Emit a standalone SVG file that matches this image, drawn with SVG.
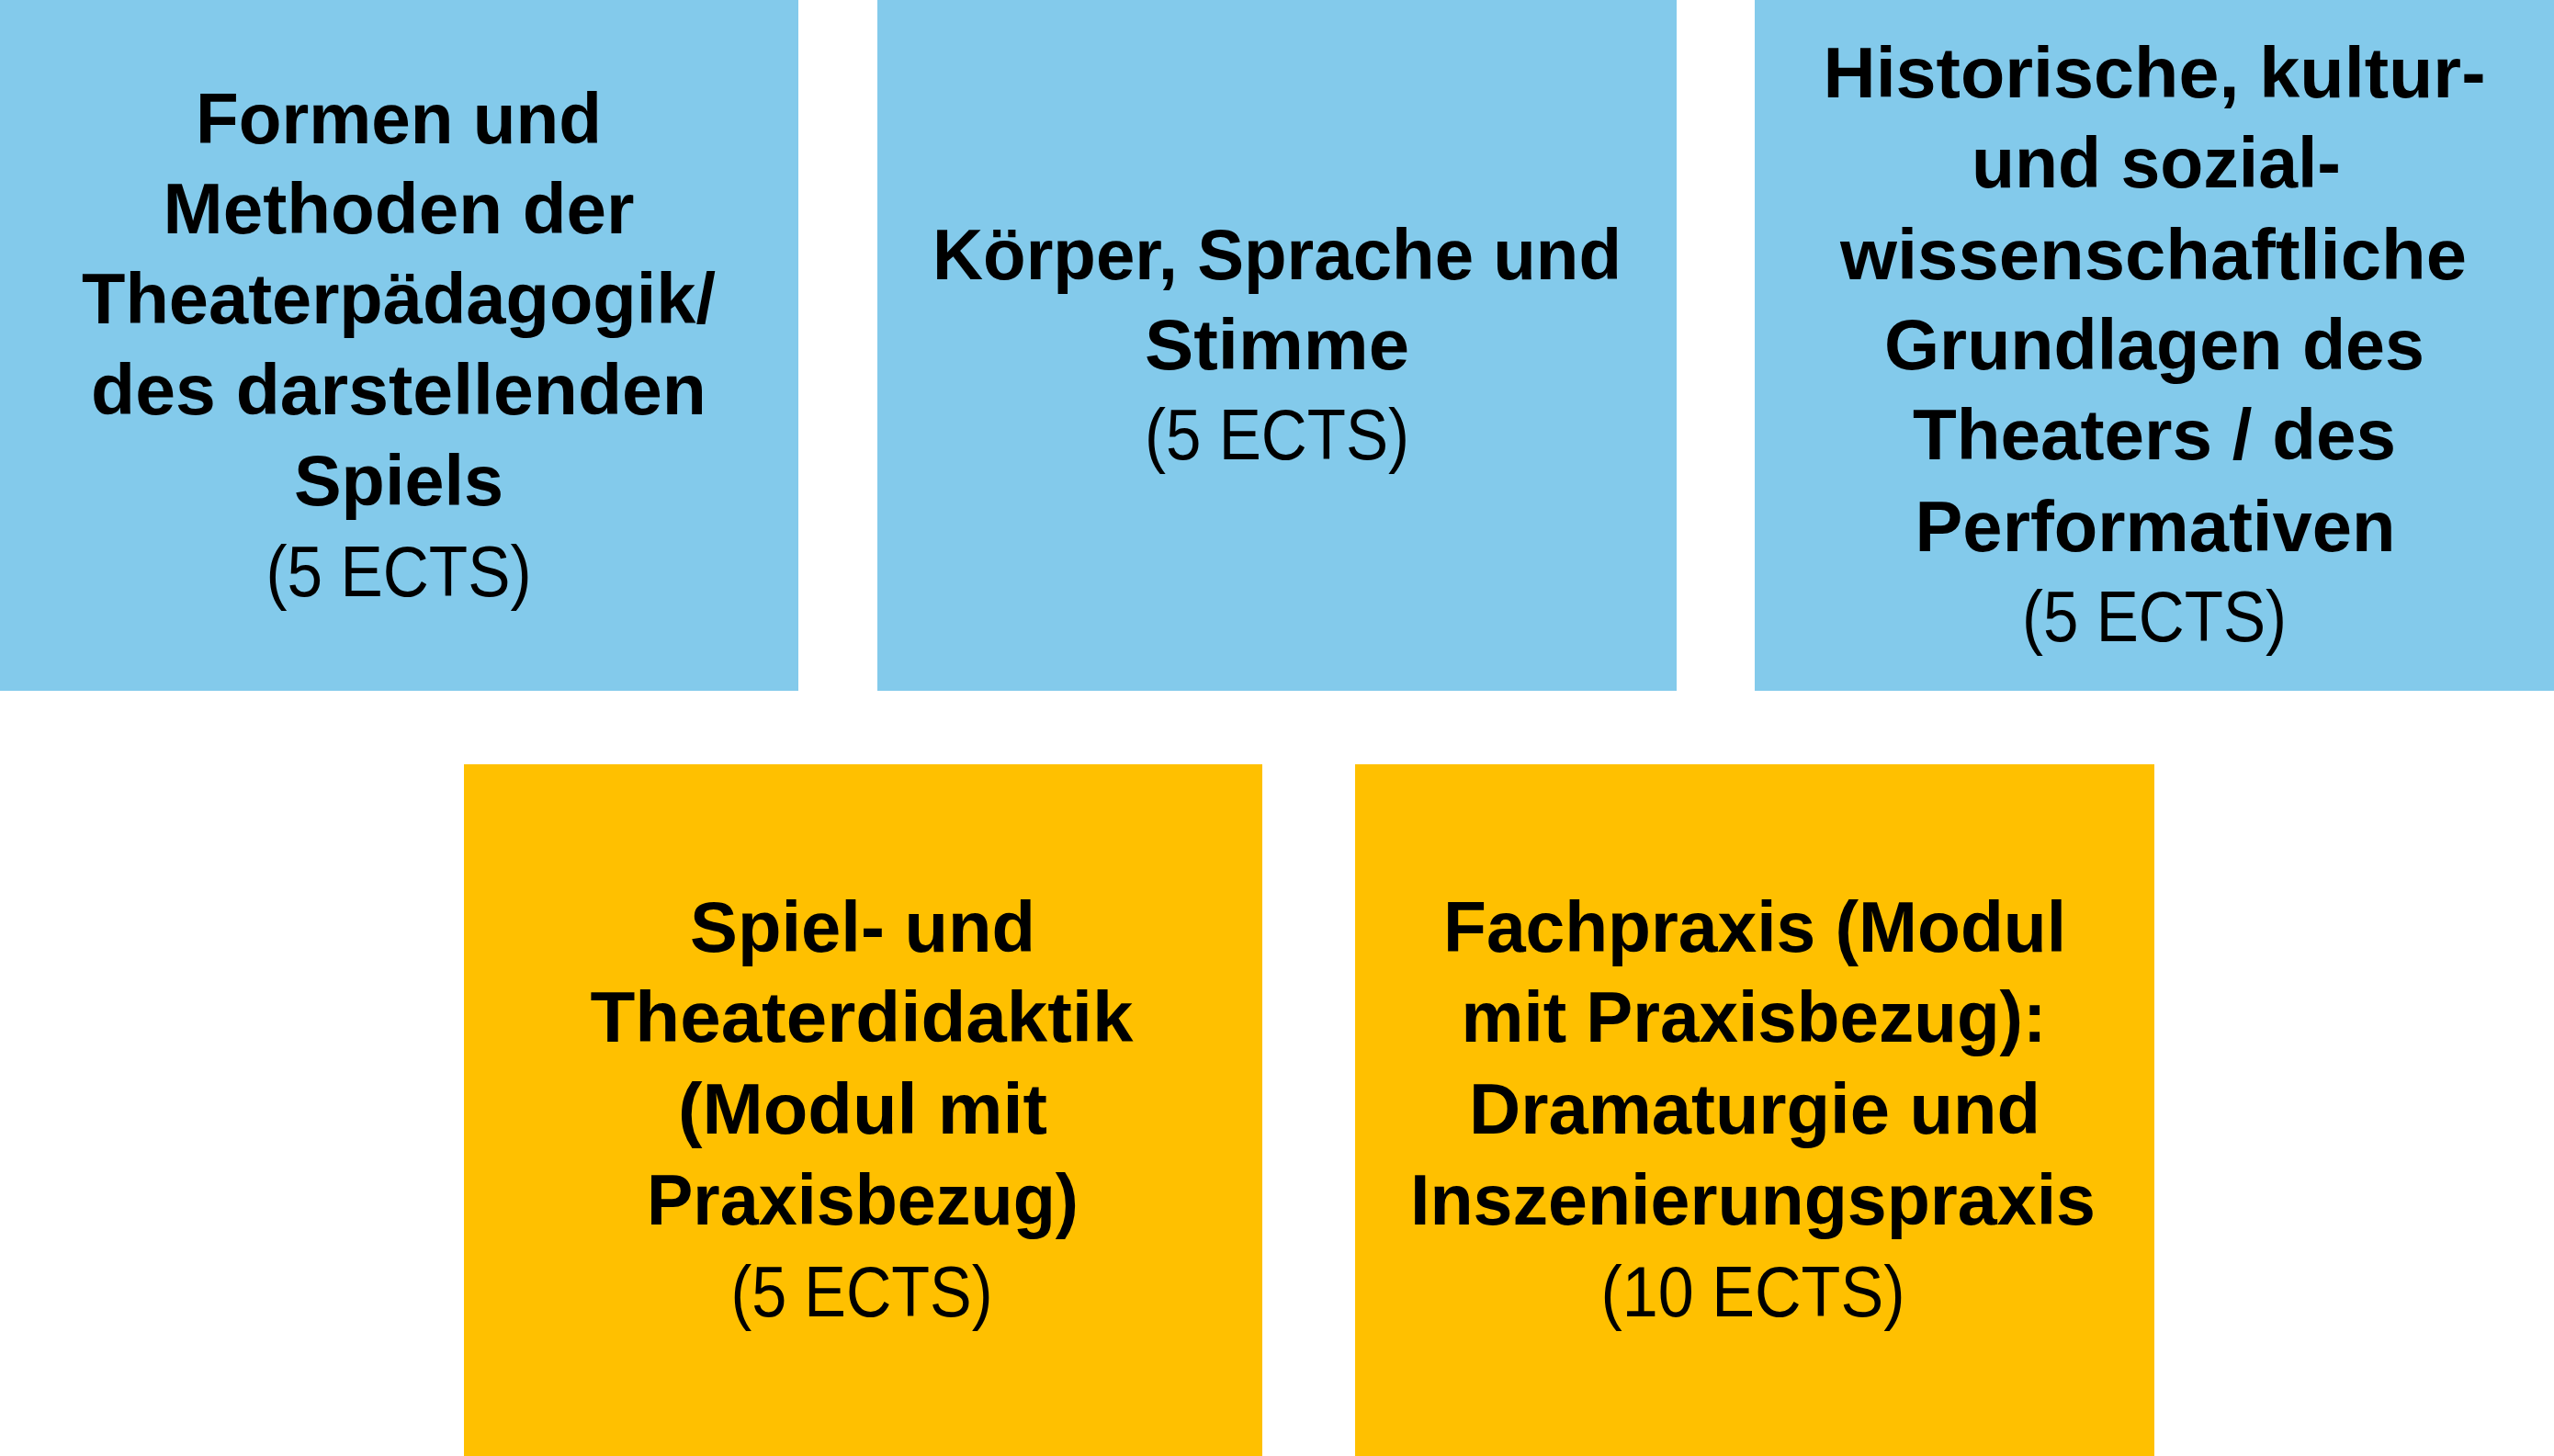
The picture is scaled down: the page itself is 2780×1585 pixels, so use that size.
<svg xmlns="http://www.w3.org/2000/svg" width="2780" height="1585" viewBox="0 0 2780 1585">
<style>
.blue{fill:#83CAEB}
.gold{fill:#FFC000}
text{font-family:"Liberation Sans",Arial,sans-serif;font-size:78px;fill:#000;text-anchor:middle}
.b{font-weight:bold}
.r{font-weight:normal}
</style>
<rect width="2780" height="1585" fill="#fff"/>
<g id="connectors"></g>
<g id="node1">
<rect class="blue" x="0" y="0" width="869" height="752"/>
<text class="b" x="434" y="156" textLength="442" lengthAdjust="spacingAndGlyphs">Formen und</text>
<text class="b" x="434" y="254" textLength="513" lengthAdjust="spacingAndGlyphs">Methoden der</text>
<text class="b" x="434" y="352" textLength="690" lengthAdjust="spacingAndGlyphs">Theaterpädagogik/</text>
<text class="b" x="434" y="451" textLength="670" lengthAdjust="spacingAndGlyphs">des darstellenden</text>
<text class="b" x="434" y="550" textLength="228" lengthAdjust="spacingAndGlyphs">Spiels</text>
<text class="r" x="434" y="649" textLength="289" lengthAdjust="spacingAndGlyphs">(5 ECTS)</text>
</g>
<g id="node2">
<rect class="blue" x="955" y="0" width="870" height="752"/>
<text class="b" x="1390" y="304" textLength="750" lengthAdjust="spacingAndGlyphs">Körper, Sprache und</text>
<text class="b" x="1390" y="402" textLength="288" lengthAdjust="spacingAndGlyphs">Stimme</text>
<text class="r" x="1390" y="500" textLength="288" lengthAdjust="spacingAndGlyphs">(5 ECTS)</text>
</g>
<g id="node3">
<rect class="blue" x="1910" y="0" width="870" height="752"/>
<text class="b" x="2345" y="106" textLength="721" lengthAdjust="spacingAndGlyphs">Historische, kultur-</text>
<text class="b" x="2347" y="204" textLength="402" lengthAdjust="spacingAndGlyphs">und sozial-</text>
<text class="b" x="2344" y="304" textLength="682" lengthAdjust="spacingAndGlyphs">wissenschaftliche</text>
<text class="b" x="2345" y="402" textLength="588" lengthAdjust="spacingAndGlyphs">Grundlagen des</text>
<text class="b" x="2345" y="500" textLength="526" lengthAdjust="spacingAndGlyphs">Theaters / des</text>
<text class="b" x="2346" y="600" textLength="523" lengthAdjust="spacingAndGlyphs">Performativen</text>
<text class="r" x="2345" y="698" textLength="288" lengthAdjust="spacingAndGlyphs">(5 ECTS)</text>
</g>
<g id="node4">
<rect class="gold" x="505" y="832" width="869" height="753"/>
<text class="b" x="939" y="1036" textLength="376" lengthAdjust="spacingAndGlyphs">Spiel- und</text>
<text class="b" x="938" y="1134" textLength="591" lengthAdjust="spacingAndGlyphs">Theaterdidaktik</text>
<text class="b" x="939" y="1234" textLength="402" lengthAdjust="spacingAndGlyphs">(Modul mit</text>
<text class="b" x="939" y="1333" textLength="470" lengthAdjust="spacingAndGlyphs">Praxisbezug)</text>
<text class="r" x="938" y="1433" textLength="285" lengthAdjust="spacingAndGlyphs">(5 ECTS)</text>
</g>
<g id="node5">
<rect class="gold" x="1475" y="832" width="870" height="753"/>
<text class="b" x="1910" y="1036" textLength="678" lengthAdjust="spacingAndGlyphs">Fachpraxis (Modul</text>
<text class="b" x="1909" y="1134" textLength="637" lengthAdjust="spacingAndGlyphs">mit Praxisbezug):</text>
<text class="b" x="1910" y="1234" textLength="622" lengthAdjust="spacingAndGlyphs">Dramaturgie und</text>
<text class="b" x="1908" y="1333" textLength="746" lengthAdjust="spacingAndGlyphs">Inszenierungspraxis</text>
<text class="r" x="1908" y="1433" textLength="331" lengthAdjust="spacingAndGlyphs">(10 ECTS)</text>
</g>
</svg>
